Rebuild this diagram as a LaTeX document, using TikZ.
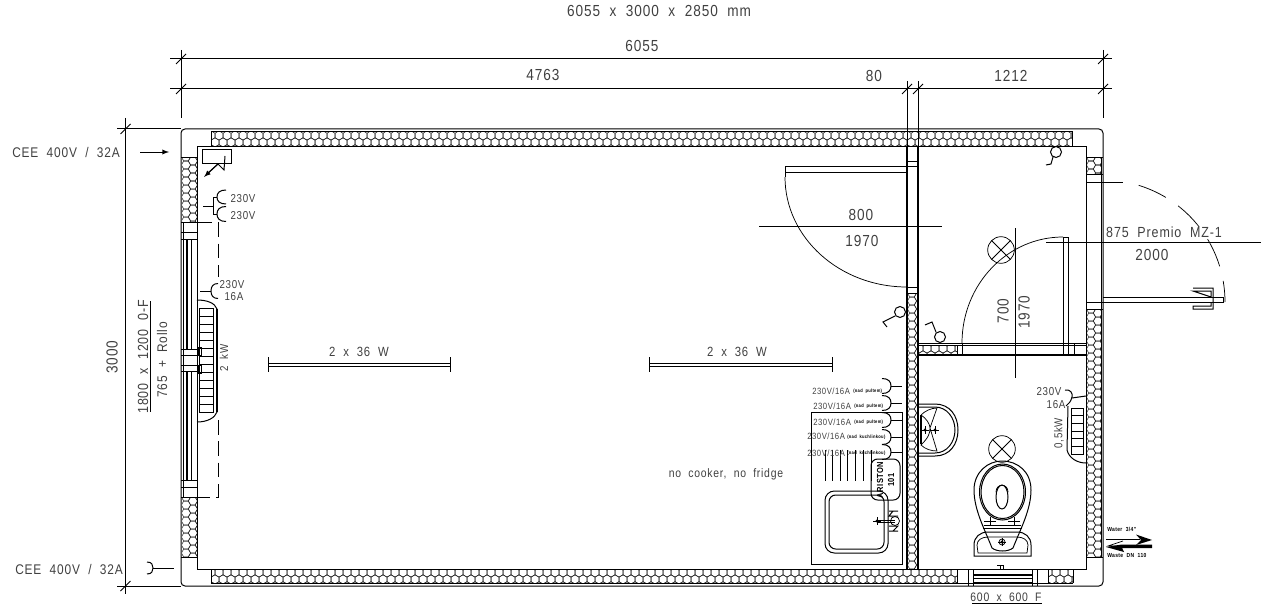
\documentclass[tikz,border=0pt]{standalone}
\usepackage{fontspec}
\setmainfont[LetterSpace=6,WordSpace=2,FakeStretch=0.85]{Liberation Sans}
\tikzset{
  base/.style={line width=0.75pt,black},
  fine/.style={line width=0.55pt,black},
  heavy/.style={line width=1.7pt,black},
  hexline/.style={line width=0.4pt,black!85},
  dashline/.style={line width=0.75pt,black,dash pattern=on 11pt off 5pt},
  lab/.style={inner sep=0pt,text=black!75,font=\fontsize{12}{14}\selectfont},
  labs/.style={inner sep=0pt,text=black!75,font=\fontsize{10.5}{12}\selectfont},
  mini/.style={inner sep=0pt,text=black!75,font=\fontsize{8.6}{10}\selectfont},
  lampname/.style={inner sep=0pt,text=black!75,font=\fontsize{10}{11}\selectfont},
  kit/.style={inner sep=0pt,anchor=west,text=black!75,font=\fontsize{6.8}{8}\selectfont},
  tiny/.style={inner sep=0pt,anchor=west,text=black,font=\bfseries\fontsize{3.6}{4}\selectfont},
  water/.style={inner sep=0pt,anchor=west,text=black,font=\bfseries\fontsize{4.4}{5}\selectfont}
}
\newcommand\honeyH[4]{\begin{scope}\clip (#1,#2) rectangle (#3,#4);
  \pgfmathtruncatemacro\nr{(#4-#2)/6.9+1}\pgfmathtruncatemacro\nc{(#3-#1)/8+1}
  \foreach \j in {0,...,\nr}{\foreach \i in {0,...,\nc}{
    \pgfmathsetmacro\cx{#1+\i*8+mod(\j,2)*4}\pgfmathsetmacro\cy{#2+3.5+\j*6.9}
    \draw[hexline] (\cx,\cy) +(90:4.6) -- +(150:4.6) -- +(210:4.6) -- +(270:4.6) -- +(330:4.6) -- +(30:4.6) -- cycle;}}
  \end{scope}}
\newcommand\honeyV[4]{\begin{scope}\clip (#1,#2) rectangle (#3,#4);
  \pgfmathtruncatemacro\nr{(#4-#2)/8+1}\pgfmathtruncatemacro\nc{(#3-#1)/6.9+1}
  \foreach \j in {0,...,\nr}{\foreach \i in {0,...,\nc}{
    \pgfmathsetmacro\cx{#1+4+\i*6.9}\pgfmathsetmacro\cy{#2+\j*8+mod(\i,2)*4}
    \draw[hexline] (\cx,\cy) +(0:4.6) -- +(60:4.6) -- +(120:4.6) -- +(180:4.6) -- +(240:4.6) -- +(300:4.6) -- cycle;}}
  \end{scope}}
\newcommand\tick[2]{\draw[fine] (#1-5,#2+5) -- (#1+5,#2-5);}
\newcommand\capC[4]{\draw[base] (#1+#3,#2-#4) .. controls (#1+#3*0.3,#2-#4) and (#1,#2-#4*0.6) .. (#1,#2) .. controls (#1,#2+#4*0.6) and (#1+#3*0.3,#2+#4) .. (#1+#3,#2+#4);}
\newcommand\crossmark[2]{\draw[base] (#1-4,#2) -- (#1+4,#2) (#1,#2-4) -- (#1,#2+4); \fill (#1,#2) circle (1.6);}
\newcommand\lamp[2]{\draw[fine] (#1,#2) circle (13.3) (#1-9.4,#2-9.4) -- (#1+9.4,#2+9.4) (#1-9.4,#2+9.4) -- (#1+9.4,#2-9.4);}
\begin{document}
\begin{tikzpicture}[x=0.75pt,y=-0.75pt]
\useasboundingbox (0,0) rectangle (1261,610);
% honeycomb fill
\honeyH{211}{132}{1072}{146}
\honeyH{211}{569}{957}{583}
\honeyH{1048}{569}{1073}{583}
\honeyH{919}{345}{957}{354}
\honeyV{182}{157}{197}{222}
\honeyV{182}{497}{197}{557}
\honeyV{1087}{157}{1101}{174}
\honeyV{1087}{309}{1101}{557}
\honeyV{908}{293}{917}{569}
% outer shell
\draw[base,rounded corners=3] (181,129) rectangle (1103,586);
\draw[base] (211,131.5) -- (1072,131.5) (211,583) -- (1073,583);
\draw[base] (211,131.5) -- (211,146) (1072,131.5) -- (1072,146);
\draw[base] (211,569) -- (211,583) (1073,569) -- (1073,583);
\draw[base] (197,157) -- (197,146) -- (1086,146) -- (1086,569) -- (197,569) -- (197,157);
\draw[base] (181,157) -- (197,157) (181,222) -- (197,222) (181,497) -- (197,497) (181,557) -- (197,557);
\draw[base] (1101,157) -- (1101,557) (1086,157) -- (1103,157) (1086,557) -- (1103,557);
\draw[base] (1086,174) -- (1103,174) (1086,182) -- (1103,182) (1086,302) -- (1103,302) (1086,309) -- (1103,309);
% left window
\draw[base] (183.7,222) -- (183.7,497);
\draw[base] (181,232) -- (197,232) (181,239) -- (197,239) (181,349) -- (197,349) (181,355) -- (197,355) (181,365) -- (197,365) (181,371) -- (197,371) (181,480) -- (197,480) (181,487) -- (197,487);
\foreach \xa in {186,187.7,191.7}{\draw[base] (\xa,239) -- (\xa,349) (\xa,371) -- (\xa,480);}
\draw[line width=0.7pt] (198,347) rectangle (201,355) (198,365) rectangle (201,373);
% partition
\draw[heavy] (907,146) -- (907,569) (918,146) -- (918,569);
\draw[heavy] (918,355) -- (1086,355);
\draw[base] (918,343) -- (1086,343) (918,345) -- (1086,345);
\draw[base] (957,345) -- (957,355) (962,343) -- (962,355) (1063,343) -- (1063,355) (1068,343) -- (1068,355) (1074,343) -- (1074,355);
\draw[base] (907,161) -- (918,161) (907,166) -- (918,166) (907,287) -- (918,287) (907,293) -- (918,293);
% doors
\draw[base] (907,166) -- (785,166) -- (785,177) (785,172) -- (907,172);
\draw[fine] (785,177) arc[start angle=180,end angle=90,x radius=122,y radius=110];
\draw[base] (1063,237) -- (1063,343) (1068,237) -- (1068,343) (1063,237) -- (1068,237);
\draw[fine] (962,343) arc[start angle=180,end angle=270,x radius=101,y radius=106];
\draw[base] (1103,297) -- (1223,297) -- (1223,302) -- (1103,302);
\draw[base] (1193,288) -- (1213,288) -- (1213,309) -- (1193,309) -- (1193,306) -- (1211,306) -- (1211,302) (1211,297) -- (1211,291) -- (1193,291) -- cycle;
\draw[fine] (1086,182) -- (1123,182);
\draw[fine] ([shift={(-73:122)}]1103,302) arc[start angle=-73,end angle=-59,radius=122];
\draw[fine] ([shift={(-52:122)}]1103,302) arc[start angle=-52,end angle=-38,radius=122];
\draw[fine] ([shift={(-31:122)}]1103,302) arc[start angle=-31,end angle=-17,radius=122];
\draw[fine] ([shift={(-10:122)}]1103,302) arc[start angle=-10,end angle=0,radius=122];
% bottom window
\draw[base] (957,569) -- (957,583) (968,569) -- (968,586) (973,569) -- (973,586) (1032,569) -- (1032,586) (1037,569) -- (1037,586) (1048,569) -- (1048,583);
\draw[line width=1.1pt] (973,575) -- (1032,575) (973,578.5) -- (1032,578.5);
\draw[base] (973,582) -- (1032,582);
\draw[line width=0.7pt] (997,565.5) -- (1003,565.5) -- (1003,569) (1000,565.5) -- (1000,569);
% dimensions
\draw[base] (170,59) -- (1112,59) (170,89) -- (1112,89);
\draw[base] (181,50) -- (181,118) (1103,50) -- (1103,118);
\draw[base] (907,81) -- (907,146) (918,81) -- (918,146);
\tick{181}{59}\tick{1103}{59}\tick{181}{89}\tick{1103}{89}\tick{907}{89}\tick{918}{89}
\draw[base] (125.5,118) -- (125.5,594) (117,129) -- (181,129) (117,586) -- (181,586);
\tick{125.5}{129}\tick{125.5}{586}
\draw[base] (150,301) -- (150,412);
\draw[base] (759,226) -- (942,226);
\draw[base] (1046,242) -- (1261,242);
\draw[base] (1015,228) -- (1015,378);
\draw[base] (972,603) -- (1042,603);
% feeds
\draw[base,-latex] (140,152) -- (169,152);
\draw[base] (153,568) -- (174,568);
\draw[base] (147,562) .. controls (152,562) and (153,565) .. (153,568) .. controls (153,571) and (152,574) .. (147,574);
% distribution box
\draw[base] (202,149) rectangle (231,163);
\draw[base] (225,156) -- (224,170) -- (218,164) -- (208,173);
\draw[base,-latex] (218,164) -- (204,177);
% sockets left
\draw[base] (203,206) -- (213,206) (217,197) -- (213,197) -- (213,214) -- (217,214);
\capC{217}{197}{9}{7}\capC{217}{214}{9}{7.5}
\draw[base] (200,291) -- (211,291);
\capC{211}{291}{7}{7.5}
\draw[dashline] (197,222) -- (218,222) -- (218,277);
\draw[dashline] (218,420) -- (218,497) -- (197,497);
% left heater
\draw[base] (199,308) rectangle (213,412);
\foreach \ya in {316,324,...,404}{\draw[base] (199,\ya) -- (213,\ya);}
\draw[base] (197,300) .. controls (207,300) and (215,303) .. (217,309);
\draw[line width=1.1pt] (217,309) -- (217,412);
\draw[base] (217,412) .. controls (215,418) and (207,422) .. (197,422);
% lights
\draw[base] (268,357) -- (268,372) (450,357) -- (450,372) (268,363) -- (450,363) (268,366) -- (450,366);
\draw[base] (649,357) -- (649,372) (832,357) -- (832,372) (649,363) -- (832,363) (649,366) -- (832,366);
\lamp{1001}{250}\lamp{1002}{449}
% switches
\draw[base] (900,312) circle (5.5) (895,316) -- (883,322) -- (887,327);
\draw[base] (940,337) circle (5.5) (936,332) -- (932,322) -- (925,325);
\draw[base] (1056,152) circle (5.5) (1053,157) -- (1051,164) -- (1046,165);
% kitchen
\draw[base] (811,412) rectangle (902,564);
\foreach \ya in {386,403,420,437,452}{\draw[base] (891,\ya) -- (902,\ya); \capC{891}{\ya}{-9}{7.5}}
\foreach \xa in {825,832,840,847,855,863,871}{\draw[fine] (\xa,450) -- (\xa,481);}
\draw[base,rounded corners=5] (871,459) rectangle (900,500);
\draw[base,rounded corners=7] (825,491) rectangle (888,553);
\draw[base,rounded corners=5] (829,495) rectangle (884,549);
\draw[base] (877,520) -- (895,520) (877,522) -- (895,522);
\crossmark{877}{521}
\draw[fine] (895,521) circle (4.5);
\draw[base] (889,511) -- (898,511) (893,511) -- (889,516) -- (898,516) (889,526) -- (898,526) -- (893,531) (889,531) -- (898,531);
% basin
\draw[base] (918,404) -- (935,404) .. controls (950,404) and (958,416) .. (958,430) .. controls (958,444) and (950,456) .. (935,456) -- (918,456);
\draw[base] (918,407) -- (935,407) .. controls (947,407) and (955,418) .. (955,430) .. controls (955,442) and (947,453) .. (935,453) -- (918,453);
\draw[fine] (921,415) .. controls (925,411) and (931,408) .. (937,408) -- (930,428) -- (937,451) .. controls (931,451) and (925,449) .. (921,445) .. controls (928,438) and (930,434) .. (930,428) .. controls (930,424) and (926,418) .. (921,415);
\draw[line width=1.3pt] (921,415) -- (921,444);
\crossmark{925}{430}\crossmark{935}{430}
% toilet
\draw[base] (992,548) .. controls (985,530) and (974,510) .. (974,490) .. controls (974,472) and (988,461) .. (1002,461) .. controls (1018,461) and (1031,472) .. (1031,490) .. controls (1031,510) and (1020,530) .. (1013,548) .. controls (1008,552) and (997,552) .. (992,548);
\draw[base] (1002.5,492) ellipse (23 and 28);
\draw[base] (1002.5,492) ellipse (21.5 and 26.5);
\draw[base] (1002,497) ellipse (6 and 12);
\draw[fine] (996,492) .. controls (996,483) and (1008,483) .. (1008,492);
\draw[base] (984,525) -- (1021,525) (983,528) -- (1022,528);
\draw[base] (984,521) -- (996,521) (990,517) -- (990,525) (1008,521) -- (1020,521) (1014,517) -- (1014,525);
\draw[base] (974,556) -- (974,545) .. controls (974,537) and (980,532) .. (988,532) -- (1017,532) .. controls (1025,532) and (1031,537) .. (1031,545) -- (1031,556) -- cycle;
\draw[fine] (978,553) -- (977,545) .. controls (977,540) and (982,537) .. (988,537) -- (1017,537) .. controls (1023,537) and (1028,540) .. (1028,545) -- (1027,553) -- cycle;
\draw[fine] (1002,542) circle (3);
\crossmark{1002}{542}
% bath heater
\draw[base] (1072,398) -- (1086,396);
\draw[base] (1065,390) .. controls (1070,389) and (1073,393) .. (1072,397) .. controls (1071,401) and (1069,404) .. (1066,406);
\draw[base] (1071,408) rectangle (1083,454);
\foreach \ya in {415.7,423.4,431.1,438.8,446.5}{\draw[base] (1071,\ya) -- (1083,\ya);}
\draw[base] (1068,406) -- (1067,450) .. controls (1069,458) and (1077,463) .. (1086,463);
% water arrows
\draw[base] (1106,539.5) -- (1140,539.5);
\fill (1152,540) -- (1136,534.5) -- (1141,540) -- (1136,545) -- cycle;
\draw[fine] (1123,541) -- (1108,546) -- (1150,546);
\fill (1106,547) -- (1122,544.5) -- (1152,544.5) -- (1152,548) -- (1122,548) -- (1124,552) -- cycle;
% texts
\node[lab] (t1) at (659,11) {6055 x 3000 x 2850 mm};
\node[lab] (t2) at (642,46) {6055};
\node[lab] (t3) at (543,75) {4763};
\node[lab] (t4) at (874,76) {80};
\node[lab] (t5) at (1011,76) {1212};
\node[lab,rotate=90] (t6) at (112,357) {3000};
\node[labs,font=\fontsize{11}{12}\selectfont,rotate=90] (t7) at (143,357) {1800 x 1200 0-F};
\node[labs,rotate=90] (t8) at (162,360) {765 + Rollo};
\node[labs] (t9) at (66,152) {CEE 400V / 32A};
\node[labs] (t10) at (69,569) {CEE 400V / 32A};
\node[mini] (s1) at (243,199) {230V};
\node[mini] (s2) at (243,216) {230V};
\node[mini] (s3) at (232,285) {230V};
\node[mini] (s4) at (234,297) {16A};
\node[mini,rotate=90] (s5) at (224,358) {2 kW};
\node[lampname] (w1) at (359,352) {2 x 36 W};
\node[lampname] (w2) at (737,352) {2 x 36 W};
\node[lab] (d1) at (861,215) {800};
\node[lab] (d2) at (862,241) {1970};
\node[labs,font=\fontsize{11}{12}\selectfont] (d3) at (1164,232) {875 Premio MZ-1};
\node[lab] (d4) at (1152,255) {2000};
\node[lab,rotate=90] (d5) at (1003,311) {700};
\node[lab,rotate=90] (d6) at (1024,312) {1970};
\node[lampname,font=\fontsize{9.2}{11}\selectfont] (n1) at (726,474) {no cooker, no fridge};
\node[labs,font=\fontsize{9.2}{11}\selectfont] (n2) at (1006,597) {600 x 600 F};
\node[mini] (b1) at (1049,392) {230V};
\node[mini] (b2) at (1056,405) {16A};
\node[mini,rotate=90] (b3) at (1059,433) {0,5kW};
\node[kit] (k1) at (812,391) {230V/16A};
\node[kit] (k2) at (813,406) {230V/16A};
\node[kit] (k3) at (813,422) {230V/16A};
\node[kit] (k4) at (807,436) {230V/16A};
\node[kit] (k5) at (807,453) {230V/16A};
\node[tiny] (kt1) at (853,391) {(nad pultem)};
\node[tiny] (kt2) at (854,406) {(nad pultem)};
\node[tiny] (kt3) at (854,422) {(nad pultem)};
\node[tiny] (kt4) at (847,437) {(nad kuchlinkou)};
\node[tiny] (kt5) at (847,453) {(nad kuchlinkou)};
\node[inner sep=0pt,rotate=90,text=black,font=\bfseries\fontsize{6.6}{7}\selectfont] (a1) at (880,480) {ARISTON};
\node[inner sep=0pt,rotate=90,text=black,font=\bfseries\fontsize{6.6}{7}\selectfont] (a2) at (891,480) {101};
\node[water] (wa) at (1107,529) {Water 3/4"};
\node[water] (wb) at (1107,555) {Waste DN 110};
\end{tikzpicture}
\end{document}
